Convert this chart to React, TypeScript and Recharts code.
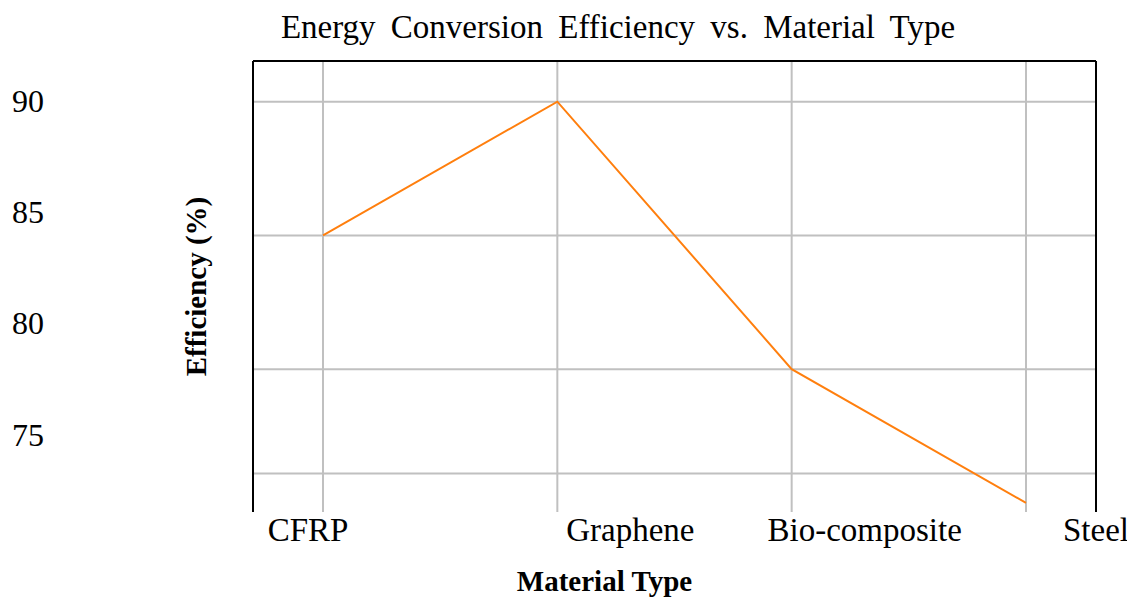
import React from 'react';
import { LineChart, Line, XAxis, YAxis, CartesianGrid } from 'recharts';

const materials = ['CFRP', 'Graphene', 'Bio-composite', 'Steel'];
const efficiency = [85, 90, 80, 75];
const yTickLabels = [75, 80, 85, 90];
const gridTicks = [76.1, 80, 85, 90];
const labelShift = [-15, 73, 73, 70];

const data = materials.map((m, i) => ({ material: m, efficiency: efficiency[i] }));

const FONT = "'Liberation Serif', 'Times New Roman', serif";
const W = 1124;
const H = 589;
const DATA_DOMAIN: [number, number] = [74.66, 91.52];
const LABEL_DOMAIN: [number, number] = [71.5, 91.78];

const XTick = (props: any) => {
  const { x, y, payload } = props;
  const i = materials.indexOf(payload.value);
  return (
    <text x={x + (labelShift[i] || 0)} y={y} dy="0.71em" textAnchor="middle" fontSize={33} fontFamily={FONT} fill="#000">
      {payload.value}
    </text>
  );
};

const EmptyTick = () => <g />;

const XLabel = (props: any) => {
  const vb = props.viewBox || {};
  return (
    <text x={vb.x + vb.width / 2 - 70} y={vb.y + 79} textAnchor="middle" fontSize={29} fontWeight="bold" fontFamily={FONT} fill="#000">
      Material Type
    </text>
  );
};

const YLabel = (props: any) => {
  const vb = props.viewBox || {};
  const cx = vb.x + vb.width - 47;
  const cy = vb.y + vb.height / 2;
  return (
    <text x={cx} y={cy} transform={`rotate(-90, ${cx}, ${cy})`} textAnchor="middle" fontSize={29} fontWeight="bold" fontFamily={FONT} fill="#000">
      Efficiency (%)
    </text>
  );
};

export default function App() {
  return (
    <div style={{ position: 'relative', width: W, height: H }}>
      <LineChart width={W} height={H} data={data} margin={{ top: 52, right: 35, bottom: 0, left: 0 }}>
        <CartesianGrid xAxisId="bottom" yAxisId="data" stroke="#c0c0c0" strokeWidth={2} syncWithTicks />
        <XAxis
          xAxisId="bottom"
          dataKey="material"
          height={85}
          padding={{ left: 70, right: 70 }}
          axisLine={false}
          tickLine={false}
          tickSize={0}
          tickMargin={6}
          interval={0}
          tick={<XTick />}
          label={<XLabel />}
        />
        <XAxis
          xAxisId="top"
          orientation="top"
          dataKey="material"
          height={1}
          padding={{ left: 70, right: 70 }}
          tick={false}
          tickLine={false}
          axisLine={{ stroke: '#000', strokeWidth: 2 }}
        />
        <YAxis
          yAxisId="data"
          type="number"
          domain={DATA_DOMAIN}
          allowDataOverflow
          ticks={gridTicks}
          interval={0}
          tick={<EmptyTick />}
          tickLine={false}
          axisLine={{ stroke: '#000', strokeWidth: 2 }}
          width={207}
          label={<YLabel />}
        />
        <YAxis
          yAxisId="labels"
          type="number"
          domain={LABEL_DOMAIN}
          allowDataOverflow
          ticks={yTickLabels}
          interval={0}
          axisLine={false}
          tickLine={false}
          tickSize={0}
          tickMargin={2}
          width={38}
          tick={{ fontSize: 32, fontFamily: FONT, fill: '#000' }}
        />
        <YAxis
          yAxisId="right"
          orientation="right"
          type="number"
          domain={DATA_DOMAIN}
          allowDataOverflow
          width={1}
          tick={false}
          tickLine={false}
          axisLine={{ stroke: '#000', strokeWidth: 2 }}
        />
        <Line
          xAxisId="bottom"
          yAxisId="data"
          type="linear"
          dataKey="efficiency"
          stroke="#ff7f0e"
          strokeWidth={2}
          dot={false}
          activeDot={false}
          isAnimationActive={false}
        />
      </LineChart>
      <svg width={W} height={50} style={{ position: 'absolute', left: 0, top: 0, pointerEvents: 'none' }}>
        <text x={610} y={29.5} textAnchor="middle" fontSize={33} wordSpacing={7} fontFamily={FONT} fill="#000">
          Energy Conversion Efficiency vs. Material Type
        </text>
      </svg>
    </div>
  );
}
